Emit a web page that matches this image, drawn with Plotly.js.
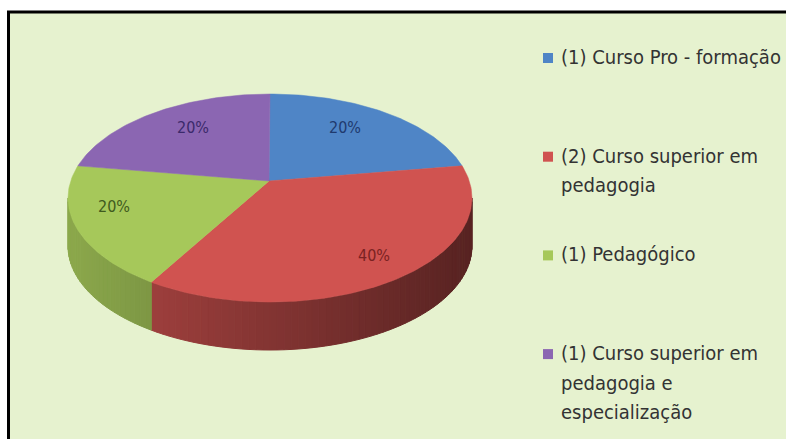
<!DOCTYPE html>
<html><head><meta charset="utf-8">
<script src="https://cdn.plot.ly/plotly-3.0.1.min.js"></script>
<style>html,body{margin:0;padding:0;background:#fff}</style>
</head><body>
<div id="chart" style="width:786px;height:439px"></div>
<script>
// ---- data ----
const categories = ["(1) Curso Pro - formação", "(2) Curso superior em<br>pedagogia", "(1) Pedagógico", "(1) Curso superior em<br>pedagogia e<br>especialização"];
const counts = [1, 2, 1, 1];
const sliceColors = ["#4F85C6", "#D05350", "#A6C85A", "#8B66B2"];
const labelColors = ["#1F3A6E", "#7A2222", "#3F5A1E", "#3B2A6B"];

// ---- geometry (pixel-like axis units) ----
const CX = 270, CY = 198, RX = 202, RY = 104, DEPTH = 48, VX = 269, VY = 181;
const BG = "#E6F2CF";
const FONT = "Liberation Sans Narrow, Arial Narrow, DejaVu Sans Condensed, sans-serif";

const total = counts.reduce((s, v) => s + v, 0);
const rad = d => d * Math.PI / 180;
const ex = t => CX + RX * Math.sin(rad(t));
const ey = t => CY - RY * Math.cos(rad(t));

function hexToRgb(h) { return [1, 3, 5].map(i => parseInt(h.substr(i, 2), 16)); }
function mix(c, f) { return 'rgb(' + c.map(v => Math.round(v * f)).join(',') + ')'; }

const traces = [];
const topTraces = [];
const annotations = [];
let acc = 0;
counts.forEach((v, i) => {
  const t0 = acc / total * 360, t1 = (acc + v) / total * 360;
  acc += v;
  const base = hexToRgb(sliceColors[i]);
  // side wall (front half: 90..270)
  const s0 = Math.max(t0, 90), s1 = Math.min(t1, 270);
  if (s1 > s0) {
    const step = 2;
    for (let a = s0; a < s1; a += step) {
      const b = Math.min(a + step, s1);
      const m = (a + b) / 2;
      const f = (Math.sin(rad(m)) + 1) / 2; // 0 left, 1 right
      const shade = 0.84 - 0.42 * f;
      const col = mix(base, shade);
      traces.push({
        type: 'scatter', mode: 'lines', fill: 'toself', fillcolor: col,
        line: {color: col, width: 1}, hoverinfo: 'skip', showlegend: false,
        x: [ex(a), ex(b), ex(b), ex(a), ex(a)],
        y: [ey(a), ey(b), ey(b) + DEPTH, ey(a) + DEPTH, ey(a)]
      });
    }
  }
  // top face
  const xs = [VX], ys = [VY];
  for (let a = t0; a <= t1 + 1e-9; a += 1) { xs.push(ex(a)); ys.push(ey(a)); }
  xs.push(ex(t1)); ys.push(ey(t1));
  xs.push(VX); ys.push(VY);
  topTraces.push({
    type: 'scatter', mode: 'lines', fill: 'toself', fillcolor: sliceColors[i],
    line: {color: sliceColors[i], width: 0.5}, hoverinfo: 'skip', showlegend: false,
    x: xs, y: ys, name: categories[i]
  });
  // percentage label
  const mid = (t0 + t1) / 2;
  const r = 0.76 - 0.15 * Math.cos(rad(mid));
  annotations.push({
    x: VX + RX * r * Math.sin(rad(mid)), y: VY - RY * r * Math.cos(rad(mid)),
    xref: 'x', yref: 'y', showarrow: false,
    text: Math.round(v / total * 100) + '%',
    font: {family: FONT, size: 16, color: labelColors[i]}
  });
});

// legend (manual, Excel-style)
const LEG_X = 559, LEG_Y0 = 57, LEG_STEP = 98.7, LINE_H = 29.5;
const legX = [], legY = [];
categories.forEach((c, i) => {
  const lines = c.split('<br>');
  lines.forEach((ln, j) => {
    annotations.push({
      x: LEG_X, y: LEG_Y0 + LEG_STEP * i + LINE_H * j, xref: 'x', yref: 'y',
      xanchor: 'left', yanchor: 'middle', showarrow: false, text: ln,
      font: {family: FONT, size: 20, color: '#333333'}
    });
  });
  legX.push(548); legY.push(LEG_Y0 + LEG_STEP * i + 1);
});
const legendMarks = {
  type: 'scatter', mode: 'markers', x: legX, y: legY, hoverinfo: 'skip', showlegend: false,
  marker: {symbol: 'square', size: 10, color: sliceColors, line: {width: 0}}
};

const layout = {
  width: 786, height: 439,
  margin: {l: 0, r: 0, t: 0, b: 0},
  paper_bgcolor: '#FFFFFF', plot_bgcolor: 'rgba(0,0,0,0)',
  xaxis: {range: [0, 786], visible: false, fixedrange: true},
  yaxis: {range: [439, 0], visible: false, fixedrange: true},
  showlegend: false,
  shapes: [{
    type: 'rect', xref: 'x', yref: 'y', x0: 8.5, y0: 12, x1: 792, y1: 450,
    line: {color: '#000000', width: 3}, fillcolor: BG, layer: 'below'
  }],
  annotations: annotations
};

Plotly.newPlot('chart', traces.concat(topTraces, [legendMarks]), layout, {displayModeBar: false, staticPlot: true});
</script>
</body></html>
